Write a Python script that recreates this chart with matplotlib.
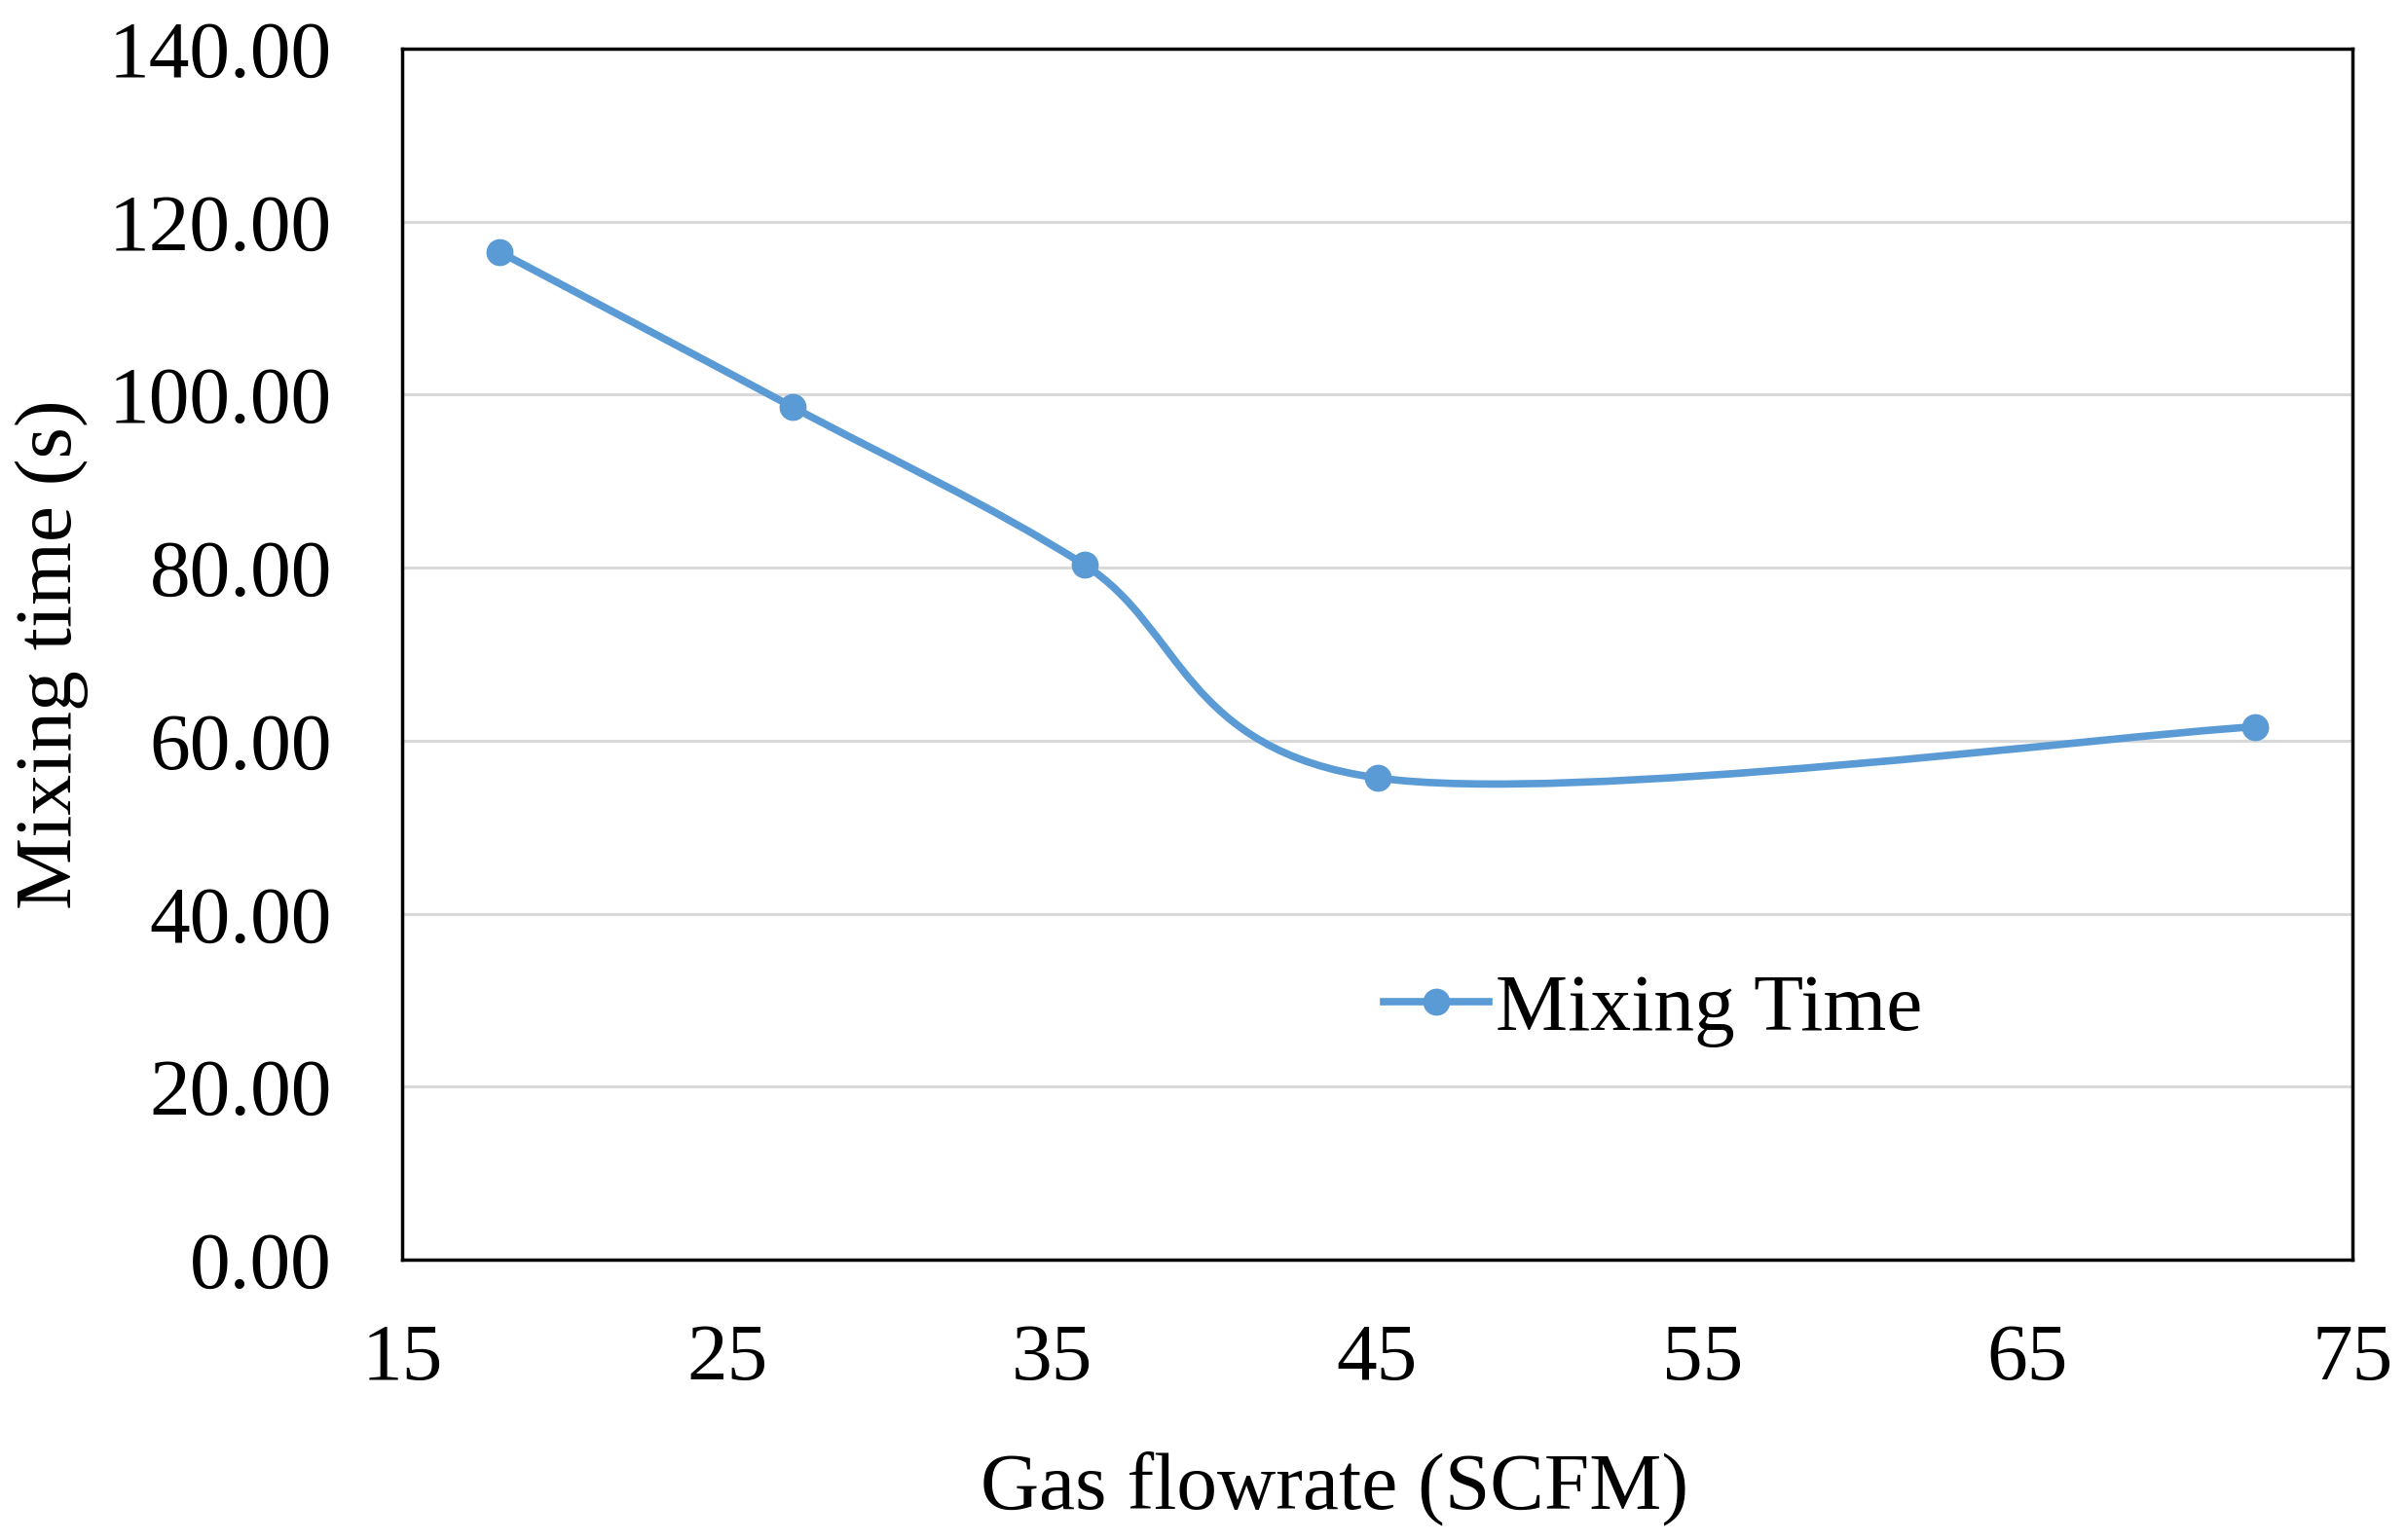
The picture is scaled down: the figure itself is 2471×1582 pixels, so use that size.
import matplotlib
matplotlib.use("Agg")
import matplotlib.pyplot as plt
from matplotlib.path import Path
from matplotlib.patches import PathPatch
from matplotlib.lines import Line2D
import numpy as np

# data
gas_flow = [18, 27, 36, 45, 72]
mixing_time = [116.5, 98.6, 80.3, 55.7, 61.6]
x_ticks = [15, 25, 35, 45, 55, 65, 75]
y_ticks = [0, 20, 40, 60, 80, 100, 120, 140]

blue = "#5B9BD5"
plt.rcParams["font.family"] = ["Liberation Serif", "DejaVu Serif"]

fig = plt.figure(figsize=(24.71, 15.82), dpi=100)
ax = fig.add_axes([413 / 2471, 1 - 1294 / 1582, 2003 / 2471, 1244 / 1582])

# Excel style smoothed line: cubic bezier segments through the points
px = np.array(gas_flow, dtype=float)
py = np.array(mixing_time, dtype=float)
P = np.column_stack([px, py])
ext = np.vstack([P[0], P, P[-1]])
verts = [tuple(P[0])]
codes = [Path.MOVETO]
for i in range(len(P) - 1):
    p0, p1, p2, p3 = ext[i], ext[i + 1], ext[i + 2], ext[i + 3]
    c1 = p1 + (p2 - p0) / 6.0
    c2 = p2 - (p3 - p1) / 6.0
    verts += [tuple(c1), tuple(c2), tuple(p2)]
    codes += [Path.CURVE4] * 3
ax.add_patch(PathPatch(Path(verts, codes), facecolor="none", edgecolor=blue,
                       lw=5.5, capstyle="round", joinstyle="round", zorder=3))
ax.plot(gas_flow, mixing_time, ls="none", marker="o", ms=19, color=blue, zorder=4)

ax.set_xlim(15, 75)
ax.set_ylim(0, 140)
ax.set_xticks(x_ticks)
ax.set_yticks(y_ticks)
ax.set_yticklabels([f"{v:.2f}" for v in y_ticks])
ax.tick_params(axis="both", length=0, labelsize=60)
ax.tick_params(axis="y", pad=52)
ax.tick_params(axis="x", pad=47)
ax.grid(axis="y", color="#D9D9D9", lw=2.2)
ax.set_axisbelow(True)
for s in ax.spines.values():
    s.set_linewidth(2.5)
    s.set_color("black")

ax.set_xlabel("Gas flowrate (SCFM)", fontsize=60, labelpad=40, x=0.478)
ax.set_ylabel("Mixing time (s)", fontsize=60, labelpad=15)

handle = Line2D([], [], color=blue, lw=5.5, marker="o", ms=19)
ax.legend([handle], ["Mixing Time"], loc="center left", bbox_to_anchor=(0.503, 0.206),
          frameon=False, fontsize=60, borderpad=0, handlelength=1.3,
          handletextpad=0.08, borderaxespad=0)

fig.savefig("out.png", dpi=100, facecolor="white")
